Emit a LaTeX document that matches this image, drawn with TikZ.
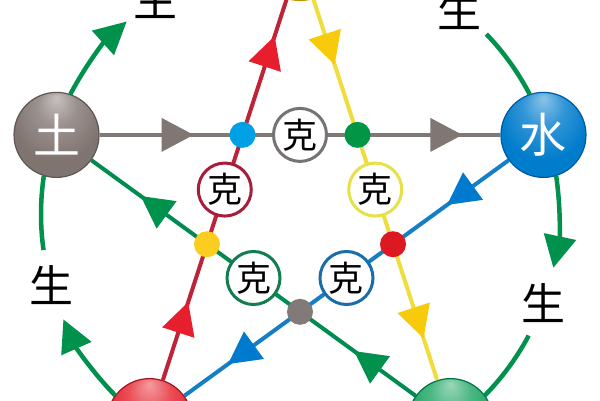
\documentclass[tikz,border=0pt]{standalone}
\usepackage{fontspec}
\newfontfamily\cjk{Noto Sans CJK SC}
\usetikzlibrary{arrows.meta,decorations.markings}
\definecolor{tuC}{RGB}{128,116,112}
\definecolor{tuD}{RGB}{95,85,82}
\definecolor{shuiC}{RGB}{0,124,204}
\definecolor{shuiD}{RGB}{0,88,160}
\definecolor{huoC}{RGB}{230,36,46}
\definecolor{huoD}{RGB}{165,20,30}
\definecolor{muC}{RGB}{30,165,100}
\definecolor{muD}{RGB}{0,115,65}
\definecolor{jinC}{RGB}{246,204,20}
\definecolor{jinD}{RGB}{190,150,0}
\definecolor{greyL}{RGB}{128,120,118}
\definecolor{greyA}{RGB}{128,118,116}
\definecolor{redL}{RGB}{190,36,56}
\definecolor{redA}{RGB}{230,30,45}
\definecolor{yelL}{RGB}{240,220,60}
\definecolor{yelA}{RGB}{248,202,12}
\definecolor{bluL}{RGB}{22,126,196}
\definecolor{bluA}{RGB}{0,122,206}
\definecolor{grnL}{RGB}{0,140,80}
\definecolor{grnA}{RGB}{0,146,76}
\definecolor{greyK}{RGB}{120,115,115}
\definecolor{redK}{RGB}{165,30,60}
\definecolor{grnK}{RGB}{20,125,80}
\definecolor{bluK}{RGB}{25,110,170}
\definecolor{yelK}{RGB}{230,225,70}
\definecolor{bluDot}{RGB}{0,160,228}
\definecolor{grnDot}{RGB}{0,150,70}
\definecolor{yelDot}{RGB}{250,205,30}
\definecolor{redDot}{RGB}{220,25,35}
\definecolor{gryDot}{RGB}{130,122,120}
\colorlet{elemcol}{tuC}
\pgfdeclareradialshading[elemcol]{elemball}{\pgfpoint{0bp}{22bp}}{%
  color(0bp)=(elemcol!45!white);
  color(12bp)=(elemcol!80!white);
  color(26bp)=(elemcol);
  color(44bp)=(elemcol);
  color(50bp)=(elemcol!78!black)}
\begin{document}
\begin{tikzpicture}[x=1pt,y=1pt,
  elem/.style={circle, minimum size=85pt, inner sep=0pt, line width=1.2pt,
    shading=elemball, elemset=#1},
  elemset/.code={\colorlet{elemcol}{#1}},
  elemtext/.style={text=white, font=\cjk\fontsize{47}{47}\selectfont, inner sep=0pt},
  ke/.style n args={4}{draw=#1, line width=4pt, line cap=butt,
    postaction={decorate},
    decoration={markings,
      mark=at position #2 with {\fill[#4] (16pt,0pt) -- (-16pt,17pt) -- (-16pt,-17pt) -- cycle;},
      mark=at position #3 with {\fill[#4] (16pt,0pt) -- (-16pt,17pt) -- (-16pt,-17pt) -- cycle;}}},
  kecirc/.style={circle, draw=#1, line width=3pt, fill=white, minimum size=53pt, inner sep=0pt,
    font=\cjk\fontsize{35}{35}\selectfont},
  kedot/.style={circle, fill=#1, minimum size=26pt, inner sep=0pt},
  shengarc/.style={draw=grnA, line width=4.5pt},
  shengtip/.style={shengarc, -{Triangle[length=32pt,width=32pt]}},
  shenglabel/.style={font=\cjk\fontsize{44}{44}\selectfont, inner sep=0pt}]
\useasboundingbox (0,0) rectangle (600,400);
\clip (0,0) rectangle (600,400);
\fill[white] (0,0) rectangle (600,400);
\begin{scope}[shift={(300,186)}]
% element balls
\node[elem=jinC, draw=jinD] (jin) at (90:256) {};
\node[elem=tuC, draw=tuD] (tu) at (162:256) {};
\node[elem=shuiC, draw=shuiD] (shui) at (18:256) {};
\node[elem=huoC, draw=huoD] (huo) at (234:256) {};
\node[elem=muC, draw=muD] (mu) at (306:256) {};
\node[elemtext] at (tu) {土};
\node[elemtext] at (shui) {水};
% controlling lines
\draw[ke={greyL}{78pt}{-54pt}{greyA}] (tu) -- (shui);
\draw[ke={redL}{66pt}{-55pt}{redA}] (huo) -- (jin);
\draw[ke={yelL}{53pt}{-60pt}{yelA}] (jin) -- (mu);
\draw[ke={bluL}{60pt}{-70pt}{bluA}] (shui) -- (huo);
\draw[ke={grnL}{60pt}{-77pt}{grnA}] (mu) -- (tu);
% ke circles
\node[kecirc=greyK] (k1) at (90:79.1) {克};
\node[kecirc=redK] (k2) at (162:79.1) {克};
\node[kecirc=grnK] (k3) at (234:79.1) {克};
\node[kecirc=bluK] (k4) at (306:79.1) {克};
\node[kecirc=yelK] (k5) at (18:79.1) {克};
% intersection dots
\node[kedot=bluDot] (d1) at (126:97.8) {};
\node[kedot=grnDot] (d2) at (54:97.8) {};
\node[kedot=yelDot] (d3) at (198:97.8) {};
\node[kedot=redDot] (d4) at (342:97.8) {};
\node[kedot=gryDot] (d5) at (270:97.8) {};
% generating cycle
\node[shenglabel] (s1) at (124:259) {生};
\node[shenglabel] (s2) at (52:259) {生};
\node[shenglabel] (s3) at (-20:259) {生};
\node[shenglabel] (s4) at (196:259) {生};
\coordinate (a1) at (152.5:259);
\coordinate (b1) at (116:259);
\coordinate (a2) at (80.5:259);
\coordinate (b2) at (44:259);
\coordinate (a3) at (8.5:259);
\coordinate (b3) at (-28:259);
\coordinate (a4) at (224.5:259);
\coordinate (b4) at (188:259);
\draw[shengtip] (a1) arc[start angle=152.5, end angle=132, radius=259];
\draw[shengarc] (b1) arc[start angle=116, end angle=99.5, radius=259];
\draw[shengtip] (a2) arc[start angle=80.5, end angle=60, radius=259];
\draw[shengarc] (b2) arc[start angle=44, end angle=27.5, radius=259];
\draw[shengtip] (a3) arc[start angle=8.5, end angle=-12, radius=259];
\draw[shengarc] (b3) arc[start angle=-28, end angle=-44.5, radius=259];
\draw[shengtip] (a4) arc[start angle=224.5, end angle=204, radius=259];
\draw[shengarc] (b4) arc[start angle=188, end angle=171.5, radius=259];
\end{scope}
\end{tikzpicture}
\end{document}
